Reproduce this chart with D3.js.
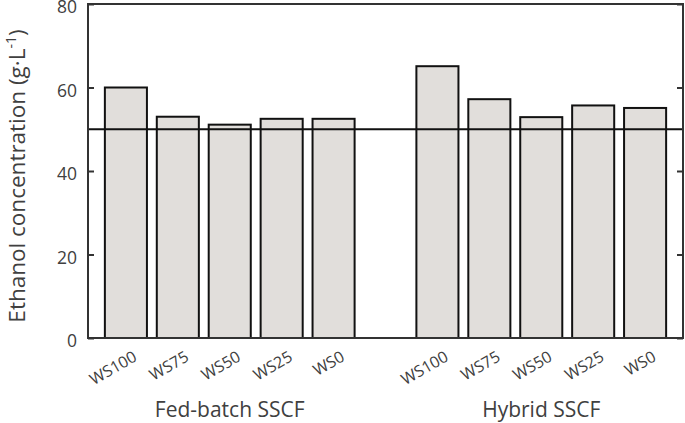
<!DOCTYPE html>
<html><head><meta charset="utf-8">
<script src="https://cdn.jsdelivr.net/npm/d3@7"></script>
<style>body{margin:0;background:#fff}svg{display:block}text{font-family:"Open Sans",sans-serif}</style>
</head><body><svg id="c" width="685" height="423"></svg>
<script>
const groups = ["Fed-batch SSCF", "Hybrid SSCF"];
const categories = ["WS100", "WS75", "WS50", "WS25", "WS0"];
const fedBatch = [60.0, 53.0, 51.1, 52.5, 52.5];
const hybrid = [65.1, 57.2, 52.9, 55.7, 55.1];
const yTicks = [0, 20, 40, 60, 80];
const refLine = 50;

const svg = d3.select("#c");
const L = 88, R = 683, T = 4, B = 338;
const slots = [];
categories.forEach(c => slots.push("F|" + c));
slots.push("gap");
categories.forEach(c => slots.push("H|" + c));
const x = d3.scaleBand().domain(slots).range([L, R]).paddingInner(0.19).paddingOuter(0.325);
const y = d3.scaleLinear().domain([0, 80]).range([B, T]);

const data = [];
categories.forEach((c, i) => data.push({key: "F|" + c, cat: c, v: fedBatch[i]}));
categories.forEach((c, i) => data.push({key: "H|" + c, cat: c, v: hybrid[i]}));

svg.selectAll("rect.bar").data(data).join("rect").attr("class", "bar")
  .attr("x", d => x(d.key)).attr("width", x.bandwidth())
  .attr("y", d => y(d.v)).attr("height", d => y(0) - y(d.v))
  .attr("fill", "#e1dedb").attr("stroke", "#111").attr("stroke-width", 2);

// reference line
svg.append("line").attr("x1", L).attr("x2", R).attr("y1", y(refLine)).attr("y2", y(refLine))
  .attr("stroke", "#111").attr("stroke-width", 2);

// frame
svg.append("rect").attr("x", L).attr("y", T).attr("width", R - L).attr("height", B - T)
  .attr("fill", "none").attr("stroke", "#333").attr("stroke-width", 2);

// y axes
const yl = svg.append("g").attr("transform", `translate(${L},0)`)
  .call(d3.axisRight(y).tickValues(yTicks).tickSize(6).tickFormat(d3.format("d")));
yl.select(".domain").remove();
yl.selectAll(".tick line").attr("stroke", "#333").attr("stroke-width", 2);
yl.selectAll(".tick text").attr("x", -11).attr("dy", "0.5em").attr("text-anchor", "end")
  .attr("fill", "#404040").style("font-size", "17.5px");

const yr = svg.append("g").attr("transform", `translate(${R},0)`)
  .call(d3.axisLeft(y).tickValues(yTicks).tickSize(6).tickFormat(""));
yr.select(".domain").remove();
yr.selectAll(".tick line").attr("stroke", "#333").attr("stroke-width", 2);

// x labels
svg.selectAll("text.xl").data(data).join("text").attr("class", "xl")
  .attr("transform", d => `translate(${x(d.key) + x.bandwidth() / 2 + 12},${360}) rotate(-30)`)
  .attr("text-anchor", "end").attr("fill", "#404040").style("font-size", "16px")
  .text(d => d.cat);

// group labels
const gCenters = [
  (x("F|WS100") + x("F|WS0") + x.bandwidth()) / 2,
  (x("H|WS100") + x("H|WS0") + x.bandwidth()) / 2
];
svg.selectAll("text.gl").data(groups).join("text").attr("class", "gl")
  .attr("x", (d, i) => gCenters[i]).attr("y", 417).attr("text-anchor", "middle")
  .attr("fill", "#404040").style("font-size", "21px").text(d => d);

// y title
const yt = svg.append("text").attr("transform", `translate(25,${176}) rotate(-90)`)
  .attr("text-anchor", "middle").attr("fill", "#404040").style("font-size", "22.5px");
yt.append("tspan").text("Ethanol concentration (g·L");
yt.append("tspan").attr("dy", -9).style("font-size", "14px").text("-1");
yt.append("tspan").attr("dy", 9).text(")");
</script></body></html>
